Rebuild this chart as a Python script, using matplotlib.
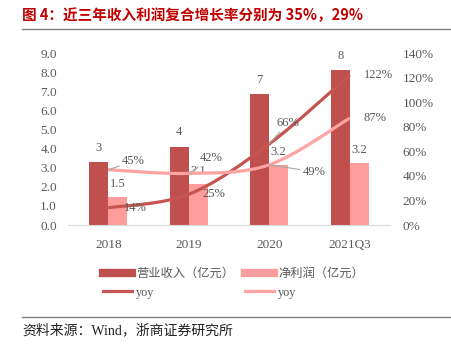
import matplotlib.pyplot as plt
from matplotlib.path import Path
import matplotlib.patches as patches
from matplotlib.lines import Line2D
import numpy as np

plt.rcParams['font.family'] = ['Liberation Serif', 'Noto Sans CJK SC']

categories = ["2018", "2019", "2020", "2021Q3"]
revenue = [3.3, 4.1, 6.85, 8.1]
revenue_labels = ["3", "4", "7", "8"]
profit = [1.48, 2.13, 3.14, 3.23]
profit_labels = ["1.5", "2.1", "3.2", "3.2"]
rev_yoy = [0.14, 0.25, 0.66, 1.22]
profit_yoy = [0.45, 0.42, 0.49, 0.87]
left_ticks = [0, 1, 2, 3, 4, 5, 6, 7, 8, 9]
right_ticks = [0, 0.2, 0.4, 0.6, 0.8, 1.0, 1.2, 1.4]

c_rev = "#C0504D"
c_pro = "#FF9D9D"
c_rev_line = "#C65450"
c_pro_line = "#FFA3A3"
grey = "#595959"


def smooth_path(xs, ys):
    # Excel-style smoothed line: cubic bezier through the points
    pts = np.column_stack([xs, ys])
    verts = [pts[0]]
    codes = [Path.MOVETO]
    n = len(pts)
    for i in range(n - 1):
        p0 = pts[max(i - 1, 0)]
        p1 = pts[i]
        p2 = pts[i + 1]
        p3 = pts[min(i + 2, n - 1)]
        verts += [p1 + (p2 - p0) / 6, p2 - (p3 - p1) / 6, p2]
        codes += [Path.CURVE4] * 3
    return Path(verts, codes)


fig = plt.figure(figsize=(4.52, 3.5), dpi=100)
ax = fig.add_axes([68 / 452, 1 - 225 / 350, 322 / 452, 172 / 350])
ax2 = ax.twinx()

x = np.arange(len(categories))
w = 0.235
ax.bar(x - w / 2, revenue, w, color=c_rev, zorder=2)
ax.bar(x + w / 2, profit, w, color=c_pro, zorder=2)
ax.set_xlim(-0.5, 3.5)
ax.set_ylim(0, 9)
ax.set_yticks(left_ticks)
ax.set_yticklabels(["%.1f" % t for t in left_ticks])
ax.set_xticks(x)
ax.set_xticklabels(categories)

for a in (ax, ax2):
    for s in a.spines.values():
        s.set_visible(False)
    a.tick_params(length=0, labelsize=9.5, colors=grey)
ax.spines['bottom'].set_visible(True)
ax.spines['bottom'].set_color("#D9D9D9")
ax.tick_params(axis='y', pad=8)
ax.tick_params(axis='x', pad=10)

ax2.set_ylim(0, 1.4)
ax2.set_yticks(right_ticks)
ax2.set_yticklabels(["%d%%" % round(t * 100) for t in right_ticks])
ax2.tick_params(axis='y', pad=9)

ax2.add_patch(patches.PathPatch(smooth_path(x, rev_yoy), fill=False,
                                edgecolor=c_rev_line, lw=2.3, zorder=3))
ax2.add_patch(patches.PathPatch(smooth_path(x, profit_yoy), fill=False,
                                edgecolor=c_pro_line, lw=2.3, zorder=3))

# bar labels
for i in range(len(categories)):
    ax.annotate(revenue_labels[i], (x[i] - w / 2, revenue[i]), xytext=(0, 6),
                textcoords="offset points", ha="center", va="bottom",
                fontsize=9, color=grey)
    ax.annotate(profit_labels[i], (x[i] + w / 2, profit[i]), xytext=(0, 5),
                textcoords="offset points", ha="center", va="bottom",
                fontsize=9, color=grey)

# yoy labels (offsets in points)
rev_off = [(11, 0), (10, 0), (5, 15), (10, 0)]
pro_off = [(10, 6), (8, 11), (24, -5), (10, 0)]
rev_lead = [False, False, True, False]
pro_lead = [True, True, True, False]
for i in range(len(categories)):
    for vals, offs, leads in ((rev_yoy, rev_off, rev_lead),
                              (profit_yoy, pro_off, pro_lead)):
        ap = dict(arrowstyle="-", color="#A6A6A6", lw=0.8,
                  shrinkA=0, shrinkB=0) if leads[i] else None
        ax2.annotate("%d%%" % round(vals[i] * 100), (x[i], vals[i]),
                     xytext=offs[i], textcoords="offset points",
                     ha="left", va="center", fontsize=9, color=grey,
                     arrowprops=ap, zorder=4)

handles = [Line2D([], [], color=c_rev, lw=6),
           Line2D([], [], color=c_rev_line, lw=2.3),
           Line2D([], [], color=c_pro, lw=6),
           Line2D([], [], color=c_pro_line, lw=2.3)]
labels = ["营业收入（亿元）", "yoy", "净利润（亿元）", "yoy"]
fig.legend(handles, labels, ncol=2, loc="upper left",
           bbox_to_anchor=(92 / 452, 1 - 257 / 350), frameon=False,
           labelcolor=grey, handlelength=2.4, handletextpad=0.3,
           columnspacing=0.9, labelspacing=0.55,
           prop={'family': ['Liberation Serif', 'Noto Sans CJK SC'], 'size': 8.8})

fig.text(22 / 452, 1 - 15 / 350, "图 4：近三年收入利润复合增长率分别为 35%，29%",
         fontsize=10.5, fontweight="bold", color="#C00000", va="center",
         family=['Noto Sans CJK SC', 'DejaVu Sans'])
fig.add_artist(Line2D([22 / 452, 1], [1 - 29 / 350] * 2, color="#808080", lw=1))
fig.add_artist(Line2D([22 / 452, 1], [1 - 317 / 350] * 2, color="#808080", lw=1))
fig.text(22 / 452, 1 - 330 / 350, "资料来源：Wind，浙商证券研究所", fontsize=10,
         color="#222222", va="center", family=['Liberation Serif', 'Noto Sans CJK SC'])

fig.savefig("out.png", dpi=100)
